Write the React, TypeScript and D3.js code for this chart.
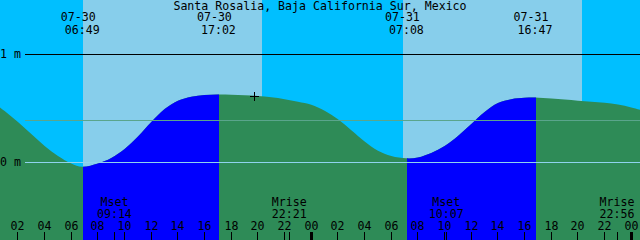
import React from "react";
import * as d3 from "d3";

const W = 640;
const H = 240;

const TITLE = "Santa Rosalia, Baja California Sur, Mexico";

// tide curve: hours since 07-30 00:00, heights in metres
const tideHours = [
  0, 1, 2, 3, 4, 5, 6, 6.817, 8, 9, 10, 11, 12, 13, 14, 15, 16, 17.033, 18, 19, 20, 21, 22, 23, 24,
  25, 26, 27, 28, 29, 30, 31.133, 32, 33, 34, 35, 36, 37, 38, 39, 40, 40.783, 42, 43, 44, 45, 46, 47, 48, 49,
];
const tideHeights = [
  0.565, 0.472, 0.37, 0.259, 0.148, 0.056, -0.014, -0.044, -0.014, 0.037, 0.12, 0.235, 0.37, 0.49,
  0.567, 0.604, 0.62, 0.625, 0.622, 0.618, 0.611, 0.599, 0.582, 0.558, 0.53,
  0.475, 0.395, 0.295, 0.19, 0.105, 0.056, 0.034, 0.042, 0.083, 0.148, 0.241, 0.352, 0.463, 0.546,
  0.581, 0.594, 0.597, 0.588, 0.579, 0.568, 0.557, 0.548, 0.532, 0.505, 0.472,
];

// high / low tide events
const extremeHours = [6.817, 17.033, 31.133, 40.783];
const extremeTypes = ["low", "high", "low", "high"];
const extremeDates = ["07-30", "07-30", "07-31", "07-31"];
const extremeTimes = ["06:49", "17:02", "07:08", "16:47"];

// moon events
const moonHours = [9.233, 22.35, 34.117, 46.933];
const moonLabels = ["Mset", "Mrise", "Mset", "Mrise"];
const moonTimes = ["09:14", "22:21", "10:07", "22:56"];

// sun
const sunriseHours = [6.9, 30.9];
const sunsetHours = [20.33, 44.33];

// reference levels
const levelValues = [1, 0];
const levelLabels = ["1 m", "0 m"];
const mslValue = 0.389;

// axis
const tickHours = d3.range(2, 49, 2);
const tickLabels = tickHours.map((h) => String(h % 24).padStart(2, "0"));

// current time marker
const nowHour = 19.7;
const nowHeight = 0.611;

const FONT = "'DejaVu Sans Mono', monospace";
const NIGHT = "#00BFFF";
const DAY = "#87CEEB";
const FLOOD = "#0000FF";
const EBB = "#2E8B57";

export default function App() {
  const x = d3.scaleLinear().domain([0.6525, 48.6525]).range([0, W]);
  const y = d3.scaleLinear().domain([0, 1]).range([162, 54]);

  const data: [number, number][] = tideHours.map((h, i) => [h, tideHeights[i]]);
  const area = d3
    .area<[number, number]>()
    .x((d) => x(d[0]))
    .y0(H)
    .y1((d) => y(d[1]))
    .curve(d3.curveCatmullRom.alpha(0.5));
  const areaPath = area(data) || "";

  const rising: [number, number][] = [];
  extremeHours.forEach((h, i) => {
    if (extremeTypes[i] === "low" && i + 1 < extremeHours.length) {
      rising.push([Math.ceil(x(h)), Math.ceil(x(extremeHours[i + 1]))]);
    }
  });

  const nx = Math.round(x(nowHour)) + 0.5;
  const ny = Math.round(y(nowHeight)) + 0.5;

  return (
    <svg
      width={W}
      height={H}
      style={{ position: "fixed", left: 0, top: 0, display: "block" }}
      fontFamily={FONT}
      fontSize={11.6}
    >
      <defs>
        <clipPath id="risingClip">
          {rising.map(([a, b], i) => (
            <rect key={i} x={a} y={0} width={b - a} height={H} />
          ))}
        </clipPath>
      </defs>
      <rect x={0} y={0} width={W} height={H} fill={NIGHT} />
      {sunriseHours.map((h, i) => (
        <rect
          key={i}
          x={Math.round(x(h))}
          y={0}
          width={Math.round(x(sunsetHours[i])) - Math.round(x(h))}
          height={H}
          fill={DAY}
          shapeRendering="crispEdges"
        />
      ))}
      <path d={areaPath} fill={EBB} />
      <path d={areaPath} fill={FLOOD} clipPath="url(#risingClip)" />

      {/* reference lines */}
      <rect x={25} y={Math.round(y(mslValue))} width={W - 25} height={1} fill="#5aa58c" shapeRendering="crispEdges" />
      <rect x={25} y={Math.round(y(0))} width={W - 25} height={1} fill="#8fd3ee" shapeRendering="crispEdges" />
      <rect x={25} y={Math.round(y(1))} width={W - 25} height={1} fill="#000" shapeRendering="crispEdges" />
      {levelValues.map((v, i) => (
        <text key={i} x={0} y={y(v) + 4} fill="#000">
          {levelLabels[i]}
        </text>
      ))}

      {/* title */}
      <text x={W / 2} y={10} textAnchor="middle" fill="#000">
        {TITLE}
      </text>

      {/* tide events */}
      {extremeHours.map((h, i) => (
        <g key={i}>
          <text x={x(h) - 4} y={21} textAnchor="middle" fill="#000">
            {extremeDates[i]}
          </text>
          <text x={x(h)} y={33.5} textAnchor="middle" fill="#000">
            {extremeTimes[i]}
          </text>
        </g>
      ))}

      {/* now marker */}
      <line x1={nx - 4.5} x2={nx + 4.5} y1={ny} y2={ny} stroke="#000" strokeWidth={1} />
      <line x1={nx} x2={nx} y1={ny - 4.5} y2={ny + 4.5} stroke="#000" strokeWidth={1} />

      {/* moon events */}
      {moonHours.map((h, i) => (
        <g key={i}>
          <text x={x(h)} y={206} textAnchor="middle" fill="#000">
            {moonLabels[i]}
          </text>
          <text x={x(h)} y={217.5} textAnchor="middle" fill="#000">
            {moonTimes[i]}
          </text>
          <rect x={Math.floor(x(h))} y={232} width={1} height={8} fill="#000" shapeRendering="crispEdges" />
        </g>
      ))}

      {/* hour ticks */}
      {tickHours.map((h, i) => {
        const midnight = h % 24 === 0;
        const px = Math.floor(x(h));
        return (
          <g key={i}>
            <rect
              x={midnight ? px - 1 : px}
              y={232}
              width={midnight ? 3 : 1}
              height={8}
              fill="#000"
              shapeRendering="crispEdges"
            />
            <text x={px + 0.5} y={229.5} textAnchor="middle" fill="#000">
              {tickLabels[i]}
            </text>
          </g>
        );
      })}
    </svg>
  );
}
